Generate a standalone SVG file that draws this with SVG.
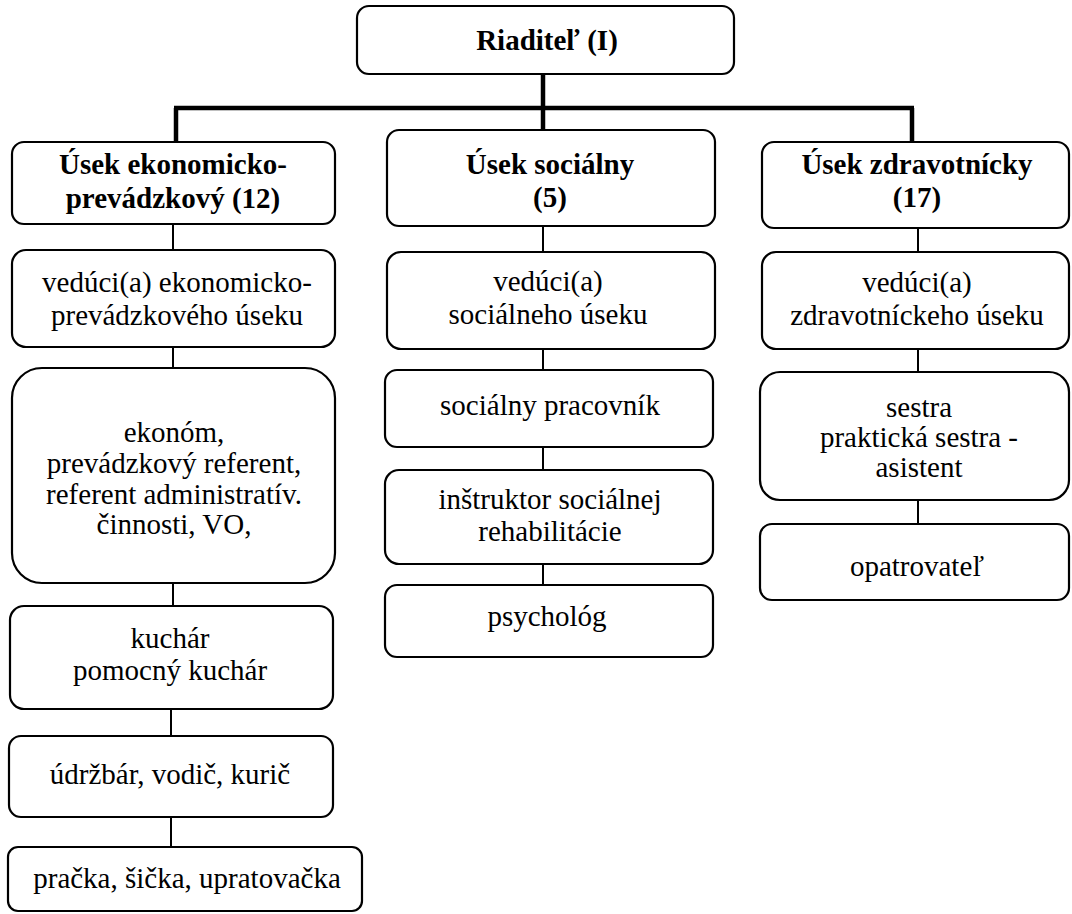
<svg xmlns="http://www.w3.org/2000/svg" width="1072" height="914" viewBox="0 0 1072 914">
<style>
.box{fill:#fff;stroke:#000;stroke-width:2.2}
text{font-family:'Liberation Serif','Times New Roman','DejaVu Serif',serif;font-size:29px;fill:#000;text-anchor:middle}
.b{font-weight:bold}
.c{stroke:#000;stroke-width:2;fill:none}
.ct{stroke:#000;stroke-width:4.5;fill:none}
</style>
<rect width="1072" height="914" fill="#fff"/>
<g id="connectors">
<line class="ct" x1="543" y1="74" x2="543" y2="130"/>
<line class="ct" x1="174" y1="108" x2="914" y2="108"/>
<line class="ct" x1="176" y1="108" x2="176" y2="142"/>
<line class="ct" x1="912" y1="108" x2="912" y2="142"/>
<line class="c" x1="173" y1="224" x2="173" y2="250"/>
<line class="c" x1="173" y1="347" x2="173" y2="368"/>
<line class="c" x1="173" y1="583" x2="173" y2="606"/>
<line class="c" x1="171" y1="709" x2="171" y2="736"/>
<line class="c" x1="171" y1="817" x2="171" y2="847"/>
<line class="c" x1="543" y1="226" x2="543" y2="252"/>
<line class="c" x1="543" y1="349" x2="543" y2="370"/>
<line class="c" x1="543" y1="447" x2="543" y2="470"/>
<line class="c" x1="543" y1="564" x2="543" y2="585"/>
<line class="c" x1="918" y1="228" x2="918" y2="252"/>
<line class="c" x1="918" y1="349" x2="918" y2="372"/>
<line class="c" x1="918" y1="500" x2="918" y2="524"/>
</g>
<g id="riaditel">
<rect class="box" x="357" y="6" width="377" height="68" rx="12"/>
<text class="b" x="547" y="50">Riaditeľ (I)</text>
</g>
<g id="usek-ekon">
<rect class="box" x="12" y="142" width="323" height="82" rx="12"/>
<text class="b" x="173" y="174">Úsek ekonomicko-</text>
<text class="b" x="173" y="208">prevádzkový (12)</text>
</g>
<g id="usek-soc">
<rect class="box" x="387" y="130" width="328" height="96" rx="12"/>
<text class="b" x="550" y="174">Úsek sociálny</text>
<text class="b" x="550" y="207">(5)</text>
</g>
<g id="usek-zdrav">
<rect class="box" x="762" y="142" width="307" height="86" rx="12"/>
<text class="b" x="917" y="174">Úsek zdravotnícky</text>
<text class="b" x="917" y="207">(17)</text>
</g>
<g id="veduci-ekon">
<rect class="box" x="12" y="250" width="323" height="97" rx="14"/>
<text x="177" y="292">vedúci(a) ekonomicko-</text>
<text x="177" y="325">prevádzkového úseku</text>
</g>
<g id="ekonom">
<rect class="box" x="12" y="368" width="323" height="215" rx="30"/>
<text x="174" y="442">ekonóm,</text>
<text x="174" y="473">prevádzkový referent,</text>
<text x="174" y="504">referent administratív.</text>
<text x="174" y="534">činnosti, VO,</text>
</g>
<g id="kuchar">
<rect class="box" x="10" y="606" width="323" height="103" rx="14"/>
<text x="170" y="648">kuchár</text>
<text x="170" y="680">pomocný kuchár</text>
</g>
<g id="udrzbar">
<rect class="box" x="9" y="736" width="324" height="81" rx="12"/>
<text x="170" y="784">údržbár, vodič, kurič</text>
</g>
<g id="pracka">
<rect class="box" x="8" y="847" width="354" height="64" rx="10"/>
<text x="187" y="888">pračka, šička, upratovačka</text>
</g>
<g id="veduci-soc">
<rect class="box" x="387" y="252" width="328" height="97" rx="14"/>
<text x="548" y="291">vedúci(a)</text>
<text x="548" y="324">sociálneho úseku</text>
</g>
<g id="soc-pracovnik">
<rect class="box" x="385" y="370" width="328" height="77" rx="12"/>
<text x="550" y="415">sociálny pracovník</text>
</g>
<g id="instruktor">
<rect class="box" x="385" y="470" width="328" height="94" rx="14"/>
<text x="550" y="509">inštruktor sociálnej</text>
<text x="550" y="541">rehabilitácie</text>
</g>
<g id="psycholog">
<rect class="box" x="385" y="585" width="328" height="72" rx="12"/>
<text x="547" y="626">psychológ</text>
</g>
<g id="veduci-zdrav">
<rect class="box" x="762" y="252" width="307" height="97" rx="14"/>
<text x="917" y="292">vedúci(a)</text>
<text x="917" y="325">zdravotníckeho úseku</text>
</g>
<g id="sestra">
<rect class="box" x="760" y="372" width="309" height="128" rx="20"/>
<text x="919" y="417">sestra</text>
<text x="919" y="447">praktická sestra -</text>
<text x="919" y="477">asistent</text>
</g>
<g id="opatrovatel">
<rect class="box" x="760" y="524" width="309" height="76" rx="12"/>
<text x="917" y="576">opatrovateľ</text>
</g>
</svg>
